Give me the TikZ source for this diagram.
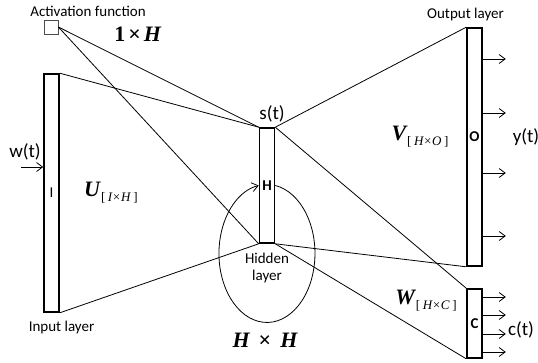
\documentclass[tikz,border=0pt]{standalone}
\usepackage{fontspec}
\setmainfont{Carlito}
\newfontfamily\tms{Liberation Serif}
\usetikzlibrary{arrows.meta,positioning}

% weight matrix label: bold italic letter, bracketed size as subscript
\newcommand{\wmat}[2]{{\tms\bfseries\itshape #1}\hspace{1pt}\raisebox{-0.5ex}{\tms\fontsize{13}{13}\selectfont[\hspace{2.5pt}\textit{#2}\hspace{2.5pt}]}}

\begin{document}
\begin{tikzpicture}[x=1pt, y=-1pt,
  lbl/.style={font=\fontsize{15}{17}\selectfont, inner sep=0pt},
  sig/.style={font=\fontsize{19}{21}\selectfont, inner sep=0pt},
  wlbl/.style={font=\fontsize{22}{24}\selectfont, inner sep=0pt},
  layer/.style={draw, line width=1.6pt, minimum width=15pt, inner sep=0pt, font=\fontsize{15}{15}\selectfont\bfseries},
  link/.style={line width=0.8pt},
  arr/.style={line width=0.8pt, -{Straight Barb[length=6pt,width=9pt]}}]
  \useasboundingbox (0,0) rectangle (538,363);
  % activation function
  \node[draw=black!70, line width=0.7pt, minimum size=14pt, inner sep=0pt] (act) at (51,27) {};
  \node[lbl] (actlbl) at (88,11) {Activation function};
  \node[wlbl] (oneh) at (138,34) {{\tms\bfseries 1\hspace{3pt}×\hspace{3pt}\textit{H}}};
  % layers
  \node[layer, minimum height=238pt] (inp) at (51.5,193) {\mdseries I};
  \node[layer, minimum height=115pt] (hid) at (267,185.5) {H};
  \node[layer, minimum height=238pt, label={[yshift=10pt, font=\fontsize{15}{15}\selectfont\bfseries]center:O}] (outl) at (474.5,147) {};
  \node[layer, minimum height=69pt] (ctx) at (474.5,323.5) {C};
  % layer labels
  \node[lbl, below=8pt of inp, xshift=10pt] (inplbl) {Input layer};
  \node[lbl, above=6pt of outl, xshift=-9pt] (outlbl) {Output layer};
  \node[lbl, below=9pt of hid, align=center] (hidlbl) {Hidden\\layer};
  \node[sig, above=5pt of hid, xshift=5pt] (st) {s(t)};
  \node[sig] (wt) at (25,152) {w(t)};
  \node[sig] (yt) at (526,137) {y(t)};
  \node[sig] (ct) at (521,330) {c(t)};
  % weights
  \node[wlbl] (umat) at (111,193) {\wmat{U}{I×H}};
  \node[wlbl] (vmat) at (420,137) {\wmat{V}{H×O}};
  \node[wlbl] (wmat) at (426,301) {\wmat{W}{H×C}};
  \node[wlbl] (hh) at (265,340) {{\tms\bfseries\itshape H\hspace{9pt}\upshape×\hspace{9pt}\itshape H}};
  % connections
  \draw[link] (act.east) -- (hid.north west);
  \draw[link] (act.east) -- (hid.south west);
  \draw[link] (inp.north east) -- (hid.north west);
  \draw[link] (inp.south east) -- (hid.south west);
  \draw[link] (hid.north east) -- (outl.north west);
  \draw[link] (hid.north east) -- (ctx.north west);
  \draw[link] (hid.south east) -- (outl.south west);
  \draw[link] (hid.south east) -- (ctx.south west);
  % recurrent loop
  \draw[arr] (hid.east) arc[start angle=80, end angle=-260, x radius=48pt, y radius=69pt];
  % input and outputs
  \coordinate (win) at (21,167);
  \draw[arr] (win) -- (win -| inp.west);
  \foreach \yy in {59,113,173,236}
    \draw[arr] (outl.east |- 0,\yy) -- ++(23,0);
  \foreach \yy in {297,315,334,352}
    \draw[arr] (ctx.east |- 0,\yy) -- ++(23,0);
\end{tikzpicture}
\end{document}
